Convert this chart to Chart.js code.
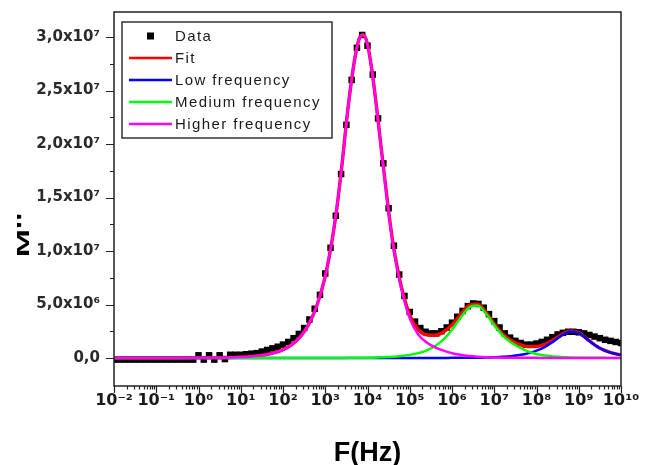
<!DOCTYPE html>
<html>
<head>
<meta charset="utf-8">
<script src="https://cdn.jsdelivr.net/npm/chart.js@4.4.1/dist/chart.umd.min.js"></script>
<style>
  html, body { margin: 0; padding: 0; background: #fff; }
  #chart { display: block; }
</style>
</head>
<body>
<canvas id="chart" width="646" height="465"></canvas>
<script>
/* globals Chart */

// all M'' values are in units of 10^6, frequencies given as log10(F/Hz)

// fit curves (log10 F)
var curveExp = [-2, -1.5, -1, -0.5, 0, 0.5, 1, 1.2, 1.4, 1.6, 1.8, 2, 2.2, 2.4, 2.6, 2.8, 3,
  3.1, 3.2, 3.3, 3.4, 3.5, 3.6, 3.7, 3.8, 3.9, 4, 4.1, 4.2, 4.3, 4.4, 4.5, 4.6, 4.7, 4.8,
  5, 5.2, 5.4, 5.6, 5.8, 6, 6.2, 6.4, 6.6, 6.8, 7, 7.2, 7.4, 7.6, 7.8, 8, 8.2, 8.4, 8.6, 8.8, 9, 9.2, 9.4, 9.6, 9.8, 10]

var fitM = [0, 0, 0, 0, 0.01, 0.02, 0.08, 0.12, 0.2, 0.31, 0.49, 0.78, 1.23, 1.95, 3.09, 4.88, 7.64,
  9.6, 11.95, 14.8, 18.2, 22.01, 25.31, 28.01, 29.82, 30.22, 29.33, 27.03, 23.94, 20.46, 17.07, 13.69, 10.81, 8.54, 6.68,
  3.99, 2.65, 2.16, 2.12, 2.43, 3.1, 4.05, 4.91, 5.05, 4.29, 3.18, 2.24, 1.64, 1.26, 1.06, 1.07, 1.28, 1.7, 2.2, 2.53, 2.38, 1.77, 1.16, 0.73, 0.45, 0.28]

var lowM = [0, 0, 0, 0, 0, 0, 0, 0, 0, 0, 0, 0, 0, 0, 0, 0, 0,
  0, 0, 0, 0, 0, 0, 0, 0, 0, 0, 0, 0, 0, 0, 0, 0, 0, 0,
  0, 0, 0, 0, 0, 0.01, 0.01, 0.02, 0.03, 0.04, 0.07, 0.11, 0.17, 0.27, 0.43, 0.68, 1.04, 1.55, 2.11, 2.48, 2.35, 1.75, 1.15, 0.72, 0.45, 0.28]

var medM = [0, 0, 0, 0, 0, 0, 0, 0, 0, 0, 0, 0, 0, 0, 0, 0, 0,
  0, 0, 0, 0, 0.01, 0.01, 0.01, 0.02, 0.02, 0.03, 0.03, 0.04, 0.06, 0.07, 0.09, 0.11, 0.14, 0.18,
  0.29, 0.45, 0.71, 1.12, 1.74, 2.64, 3.74, 4.7, 4.9, 4.18, 3.06, 2.1, 1.45, 0.98, 0.62, 0.38, 0.24, 0.15, 0.09, 0.05, 0.03, 0.02, 0.01, 0.01, 0, 0]

var highM = [0, 0, 0, 0, 0.01, 0.02, 0.08, 0.12, 0.2, 0.31, 0.49, 0.78, 1.23, 1.95, 3.09, 4.88, 7.64,
  9.6, 11.95, 14.8, 18.2, 22.0, 25.3, 28.0, 29.8, 30.2, 29.3, 27.0, 23.9, 20.4, 17.0, 13.6, 10.7, 8.4, 6.5,
  3.7, 2.2, 1.45, 1.0, 0.69, 0.45, 0.3, 0.19, 0.12, 0.07, 0.05, 0.03, 0.02, 0.01, 0.01, 0.01, 0, 0, 0, 0, 0, 0, 0, 0, 0, 0]

// measured points
var dataExp = [-2, -1.875, -1.75, -1.625, -1.5, -1.375, -1.25, -1.125,
  -1, -0.875, -0.75, -0.625, -0.5, -0.375, -0.25, -0.125,
  0, 0.125, 0.25, 0.375, 0.5, 0.625, 0.75, 0.875,
  1, 1.125, 1.25, 1.375, 1.5, 1.625, 1.75, 1.875,
  2, 2.125, 2.25, 2.375, 2.5, 2.625, 2.75, 2.875,
  3, 3.125, 3.25, 3.375, 3.5, 3.625, 3.75, 3.875,
  4, 4.125, 4.25, 4.375, 4.5, 4.625, 4.75, 4.875,
  5, 5.125, 5.25, 5.375, 5.5, 5.625, 5.75, 5.875,
  6, 6.125, 6.25, 6.375, 6.5, 6.625, 6.75, 6.875,
  7, 7.125, 7.25, 7.375, 7.5, 7.625, 7.75, 7.875,
  8, 8.125, 8.25, 8.375, 8.5, 8.625, 8.75, 8.875,
  9, 9.125, 9.25, 9.375, 9.5, 9.625, 9.75, 9.875, 10]

var dataM = [-0.15, -0.15, -0.15, -0.15, -0.15, -0.15, -0.15, -0.15,
  -0.15, -0.15, -0.15, -0.15, -0.15, -0.15, -0.15, -0.15,
  0.25, -0.15, 0.25, -0.15, 0.25, -0.1, 0.3, 0.3,
  0.3, 0.35, 0.4, 0.45, 0.6, 0.75, 0.9, 1.05,
  1.25, 1.5, 1.85, 2.25, 2.8, 3.6, 4.6, 5.9,
  7.9, 10.3, 13.3, 17.2, 21.8, 26.0, 29.0, 30.2,
  29.2, 26.5, 22.4, 18.2, 14.0, 10.5, 7.8, 5.8,
  4.3, 3.4, 2.8, 2.45, 2.3, 2.3, 2.5, 2.85,
  3.3, 3.85, 4.4, 4.85, 5.1, 5.05, 4.7, 4.1,
  3.45, 2.85, 2.3, 1.9, 1.6, 1.4, 1.25, 1.25,
  1.35, 1.5, 1.7, 1.95, 2.2, 2.35, 2.45, 2.45,
  2.4, 2.3, 2.15, 2.0, 1.85, 1.7, 1.6, 1.5, 1.4]

// axes
var xTickExps = [-2, -1, 0, 1, 2, 3, 4, 5, 6, 7, 8, 9, 10]
var yTicks = [0, 2.5, 5, 7.5, 10, 12.5, 15, 17.5, 20, 22.5, 25, 27.5, 30]
var yMin = -2.62
var yMax = 32.35

var seriesLabels = ['Data', 'Fit', 'Low frequency', 'Medium frequency', 'Higher frequency']
var seriesColors = ['#000000', '#ff0000', '#0000ff', '#00ff00', '#ff00ff']

var supMap = { '-': '\u207B', '0': '\u2070', '1': '\u00B9', '2': '\u00B2', '3': '\u00B3',
  '4': '\u2074', '5': '\u2075', '6': '\u2076', '7': '\u2077', '8': '\u2078', '9': '\u2079' }

function sup(n) {
  return String(n).split('').map(function (c) { return supMap[c] }).join('')
}

function toPoints(exps, vals) {
  return exps.map(function (e, i) { return { x: Math.pow(10, e), y: vals[i] } })
}

function yTickLabel(v) {
  if (v === 0) return '0,0'
  if (v % 5 !== 0) return ''
  var exp = v >= 10 ? 7 : 6
  var m = v / Math.pow(10, exp - 6)
  return m.toFixed(1).replace('.', ',') + 'x10' + sup(exp)
}

function xTickLabel(v) {
  var e = Math.round(Math.log10(v))
  if (Math.abs(Math.pow(10, e) - v) > v * 1e-6) return ''
  return '10' + sup(e)
}

function lineSet(i, vals, order, width) {
  return {
    label: seriesLabels[i],
    data: toPoints(curveExp, vals),
    borderColor: seriesColors[i],
    backgroundColor: seriesColors[i],
    borderWidth: width,
    pointRadius: 0,
    cubicInterpolationMode: 'monotone',
    fill: false,
    order: order
  }
}

// frame, tick marks, rotated y title and the boxed legend
var framePlugin = {
  id: 'frame',
  afterDraw: function (chart) {
    var ctx = chart.ctx
    var a = chart.chartArea
    var xs = chart.scales.x
    var ys = chart.scales.y
    ctx.save()
    ctx.strokeStyle = '#222'
    ctx.lineWidth = 1.5
    ctx.strokeRect(a.left, a.top, a.right - a.left, a.bottom - a.top)

    ctx.beginPath()
    xs.ticks.forEach(function (t) {
      var px = Math.round(xs.getPixelForValue(t.value)) + 0.5
      var len = t.major ? 7 : 3.5
      ctx.moveTo(px, a.bottom)
      ctx.lineTo(px, a.bottom + len)
    })
    ys.ticks.forEach(function (t) {
      var py = Math.round(ys.getPixelForValue(t.value)) + 0.5
      var len = (t.value % 5 === 0) ? 8 : 4
      ctx.moveTo(a.left - len, py)
      ctx.lineTo(a.left, py)
    })
    ctx.lineWidth = 1.2
    ctx.stroke()

    // y title
    ctx.save()
    ctx.translate(24, 235)
    ctx.rotate(-Math.PI / 2)
    ctx.scale(2, 1)
    ctx.font = 'bold 17px "Liberation Sans", Arial, sans-serif'
    ctx.fillStyle = '#000'
    ctx.textAlign = 'center'
    ctx.textBaseline = 'middle'
    ctx.fillText("M''", 0, 0)
    ctx.restore()

    // legend
    var box = { x: 122, y: 22, w: 210, h: 116 }
    ctx.fillStyle = '#fff'
    ctx.fillRect(box.x, box.y, box.w, box.h)
    ctx.strokeStyle = '#333'
    ctx.lineWidth = 1.5
    ctx.strokeRect(box.x, box.y, box.w, box.h)
    ctx.font = '15px "Liberation Sans", Arial, sans-serif'
    ctx.letterSpacing = '1.4px'
    ctx.textBaseline = 'middle'
    ctx.textAlign = 'left'
    chart.data.datasets.forEach(function (ds, i) {
      var y = 36 + i * 22
      if (i === 0) {
        ctx.fillStyle = ds.backgroundColor
        ctx.fillRect(147, y - 3.5, 7, 7)
      } else {
        ctx.strokeStyle = ds.borderColor
        ctx.lineWidth = 2.5
        ctx.beginPath()
        ctx.moveTo(129, y)
        ctx.lineTo(172, y)
        ctx.stroke()
      }
      ctx.fillStyle = '#1a1a1a'
      ctx.fillText(ds.label, 175, y + 1)
    })
    ctx.restore()
  }
}

var chart = new Chart(document.getElementById('chart'), {
  type: 'line',
  data: {
    datasets: [
      {
        label: seriesLabels[0],
        data: toPoints(dataExp, dataM),
        showLine: false,
        pointStyle: 'rect',
        pointRadius: 4.6,
        pointBorderWidth: 0,
        backgroundColor: seriesColors[0],
        borderColor: seriesColors[0],
        order: 5
      },
      lineSet(1, fitM, 4, 3.4),
      lineSet(2, lowM, 3, 2.5),
      lineSet(3, medM, 2, 2.5),
      lineSet(4, highM, 1, 2.5)
    ]
  },
  options: {
    responsive: false,
    devicePixelRatio: 1,
    animation: false,
    layout: { padding: { left: 0, right: 25, top: 12, bottom: 0 } },
    plugins: {
      legend: { display: false },
      tooltip: { enabled: false }
    },
    scales: {
      x: {
        type: 'logarithmic',
        position: 'bottom',
        min: 1e-2,
        max: 1e10,
        afterBuildTicks: function (s) {
          var t = []
          xTickExps.forEach(function (e) {
            t.push({ value: Math.pow(10, e), major: true })
            if (e < 10) {
              for (var k = 2; k <= 9; k++) t.push({ value: k * Math.pow(10, e) })
            }
          })
          s.ticks = t
        },
        afterFit: function (s) {
          s.height = 79
          s.paddingLeft = 0
          s.paddingRight = 0
        },
        grid: { display: false, drawTicks: false },
        border: { display: false },
        ticks: {
          autoSkip: false,
          maxRotation: 0,
          minRotation: 0,
          padding: 5,
          color: '#1a1a1a',
          font: { family: 'DejaVu Sans', size: 16, weight: 'bold' },
          callback: xTickLabel
        },
        title: {
          display: true,
          text: 'F(Hz)',
          color: '#000',
          padding: { top: 0, bottom: -5 },
          font: { family: 'Liberation Sans', size: 27, weight: 'bold' }
        }
      },
      y: {
        type: 'linear',
        min: yMin,
        max: yMax,
        afterBuildTicks: function (s) {
          s.ticks = yTicks.map(function (v) { return { value: v } })
        },
        afterFit: function (s) {
          s.width = 114
          s.paddingTop = 0
          s.paddingBottom = 0
        },
        grid: { display: false, drawTicks: false },
        border: { display: false },
        ticks: {
          autoSkip: false,
          padding: 14,
          color: '#2a2a2a',
          font: { family: 'DejaVu Sans', size: 15, weight: 'bold' },
          callback: yTickLabel
        }
      }
    }
  },
  plugins: [framePlugin]
})
</script>
</body>
</html>
